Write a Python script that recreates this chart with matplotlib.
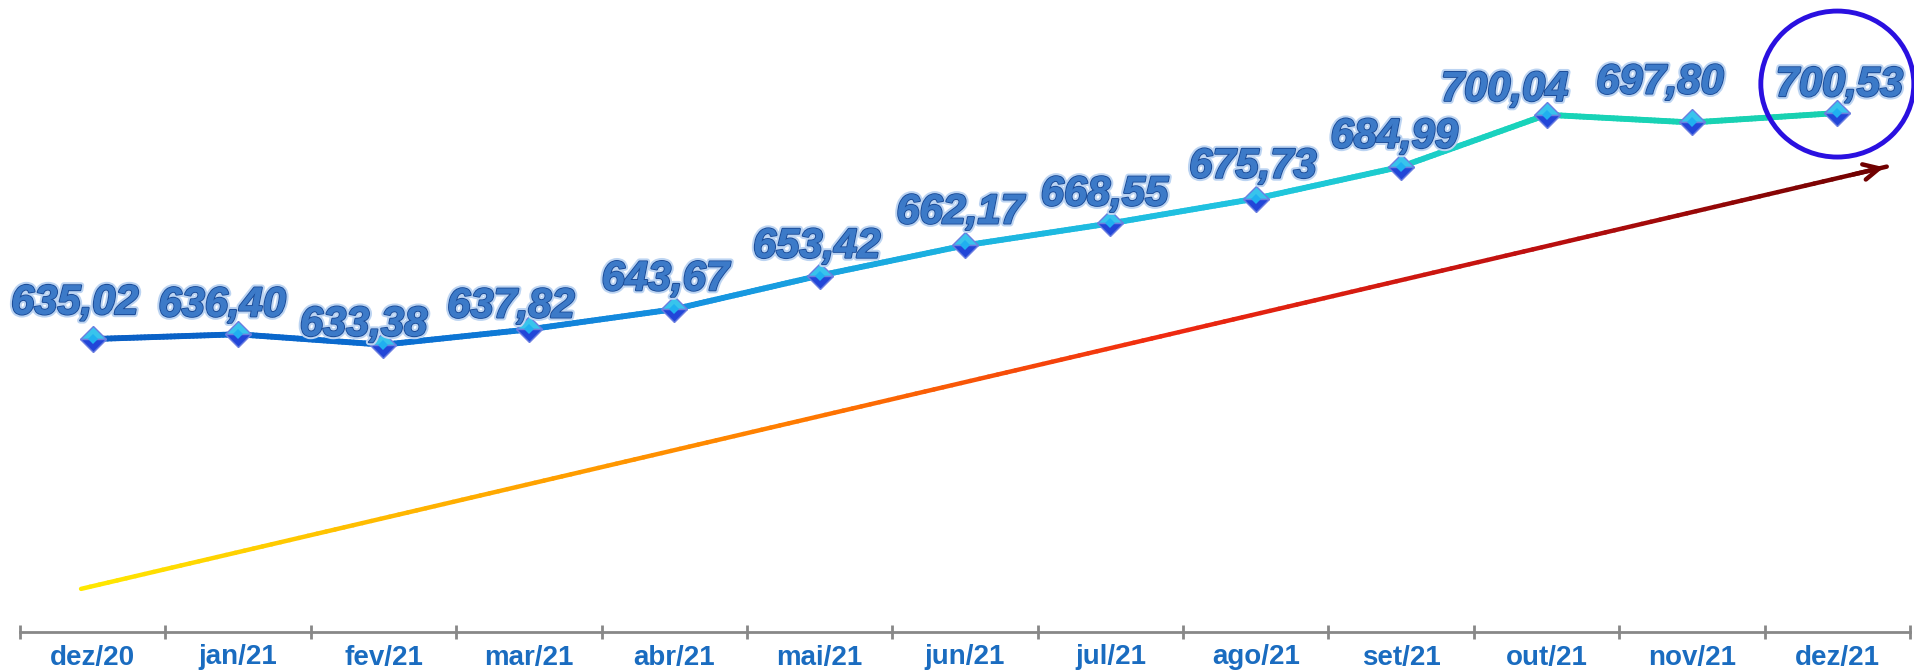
import numpy as np
import matplotlib
matplotlib.use("Agg")
import matplotlib.pyplot as plt
import matplotlib.patheffects as pe
from matplotlib.collections import LineCollection
from matplotlib.colors import LinearSegmentedColormap
from matplotlib.patches import Ellipse

months = ["dez/20", "jan/21", "fev/21", "mar/21", "abr/21", "mai/21", "jun/21",
          "jul/21", "ago/21", "set/21", "out/21", "nov/21", "dez/21"]
values = [635.02, 636.40, 633.38, 637.82, 643.67, 653.42, 662.17,
          668.55, 675.73, 684.99, 700.04, 697.80, 700.53]
labels = ["635,02", "636,40", "633,38", "637,82", "643,67", "653,42", "662,17",
          "668,55", "675,73", "684,99", "700,04", "697,80", "700,53"]
# trend arrow (start, end) in data units
trend_x = [-0.08, 12.34]
trend_y = [562.6, 685.0]

# label nudges in pixels
label_dx = [-18, -16, -20, -18, -9, -3, -5, -6, -3, -7, -42, -32, 2]
label_dy = [16, 9, 0, 3, 10, 9, 13, 9, 12, 10, 5, 20, 8]

fig = plt.figure(figsize=(19.15, 6.71), dpi=100)
ax = fig.add_axes([20 / 1915, 1 - 632 / 671, 1890 / 1915, 632 / 671])
ax.set_xlim(-0.5, len(months) - 0.5)
ax.set_ylim(550.1, 733.3)

# gradient trend arrow
arrow_cmap = LinearSegmentedColormap.from_list(
    "trend", ["#ffe800", "#ffb000", "#ff7a00", "#f02a10", "#c01010", "#700000"])
n = 200
tx = np.linspace(trend_x[0], trend_x[1], n)
ty = np.linspace(trend_y[0], trend_y[1], n)
segs = np.stack([np.column_stack([tx[:-1], ty[:-1]]),
                 np.column_stack([tx[1:], ty[1:]])], axis=1)
lc = LineCollection(segs, cmap=arrow_cmap, linewidths=3.2, capstyle="round")
lc.set_array(np.linspace(0, 1, n - 1))
ax.add_collection(lc)
slope = (trend_y[1] - trend_y[0]) / (trend_x[1] - trend_x[0])
ax.annotate("", xy=(trend_x[1], trend_y[1]),
            xytext=(trend_x[1] - 0.25, trend_y[1] - 0.25 * slope),
            arrowprops=dict(arrowstyle="->", color="#700000", lw=3.2,
                            mutation_scale=28))

# gradient main line
line_cmap = LinearSegmentedColormap.from_list(
    "main", ["#0a5ec4", "#0a6cd0", "#1590e0", "#1cb4e0", "#20c4e0", "#18d4b8", "#18d0b0"])
x = np.arange(len(values))
m = 40
xs, ys = [], []
for i in range(len(values) - 1):
    xs.append(np.linspace(x[i], x[i + 1], m))
    ys.append(np.linspace(values[i], values[i + 1], m))
xs = np.concatenate(xs)
ys = np.concatenate(ys)
segs = np.stack([np.column_stack([xs[:-1], ys[:-1]]),
                 np.column_stack([xs[1:], ys[1:]])], axis=1)
lc2 = LineCollection(segs, cmap=line_cmap, linewidths=4.2, capstyle="round")
lc2.set_array(xs[:-1] / xs.max())
ax.add_collection(lc2)

# diamond markers
ax.plot(x, values, linestyle="none", marker="D", markersize=13,
        fillstyle="top", markerfacecolor="#38c4ec", markerfacecoloralt="#2246d8",
        markeredgecolor="#6a7ee0", markeredgewidth=1, zorder=5)
ax.plot(x, values, linestyle="none", marker="D", markersize=5,
        color="#20b0f0", markeredgewidth=0, zorder=6)

# value labels
for xi, v, lab, dx, dy in zip(x, values, labels, label_dx, label_dy):
    ax.annotate(lab, (xi, v), xytext=(dx, dy), textcoords="offset pixels",
                ha="center", va="bottom", fontsize=30, fontweight="bold",
                fontstyle="italic", family="Liberation Sans", color="#3c7ac8",
                path_effects=[pe.withStroke(linewidth=4.5, foreground="#bcd4f2"),
                              pe.withStroke(linewidth=1.6, foreground="#1d4e9a"),
                              pe.Normal()], zorder=7)

# highlight circle on last value
circ = Ellipse((x[-1], values[-1] + 29 / 3.45), width=153 / 145.4, height=146 / 3.45,
               fill=False, edgecolor="#2a10e0", linewidth=3.5, zorder=8,
               clip_on=False)
ax.add_patch(circ)

# axis styling
for s in ["left", "right", "top"]:
    ax.spines[s].set_visible(False)
ax.spines["bottom"].set_color("#888888")
ax.spines["bottom"].set_linewidth(2)
ax.set_yticks([])
ax.set_xticks(np.arange(-0.5, len(months)), minor=False)
ax.set_xticklabels([])
ax.tick_params(axis="x", which="major", direction="inout", length=10, width=2,
               color="#888888")
ax.set_xticks(x, minor=True)
ax.set_xticklabels(months, minor=True, fontsize=20, fontweight="bold",
                   family="Liberation Sans", color="#1a6cc0")
ax.tick_params(axis="x", which="minor", length=0, pad=9)

fig.savefig("out.png", dpi=100)
